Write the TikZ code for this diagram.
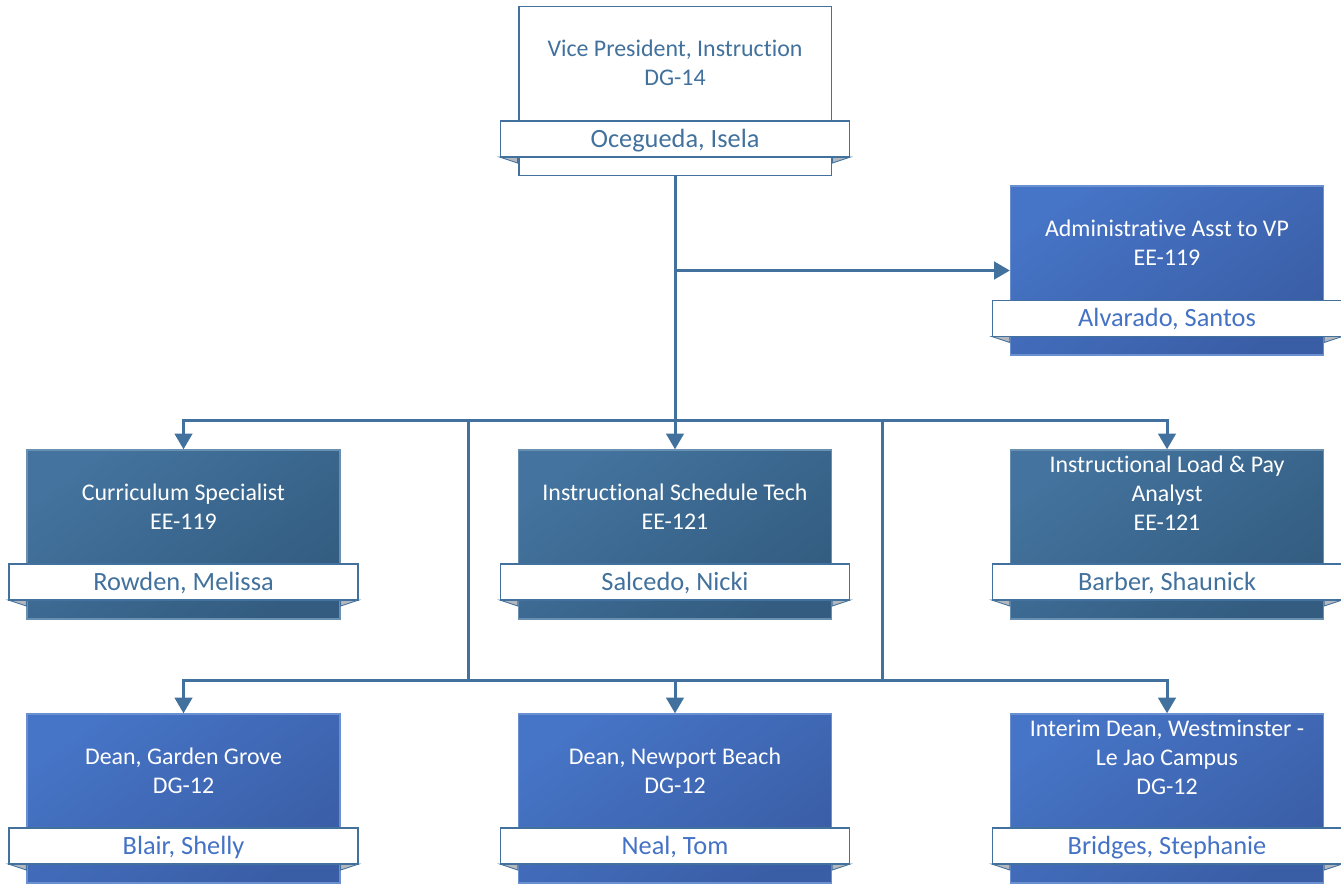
\documentclass[tikz,border=0pt]{standalone}
\usepackage{fontspec}
\setmainfont{Carlito}[Ligatures=NoCommon]
\usetikzlibrary{arrows.meta}
\definecolor{linkblue}{HTML}{41719C}
\definecolor{steeltop}{HTML}{43739E}
\definecolor{steelbot}{HTML}{335C80}
\definecolor{royaltop}{HTML}{4674C6}
\definecolor{royalbot}{HTML}{3A5EA6}
\definecolor{royaltext}{HTML}{4472C4}
\definecolor{flapgray}{HTML}{B4B8BE}
\begin{document}
\begin{tikzpicture}[x=0.02cm,y=-0.02cm,
    unit/.style={minimum width=6.26cm,minimum height=3.38cm,inner sep=0pt},
    vpunit/.style={unit,draw=linkblue,line width=1.1pt,fill=white},
    steelunit/.style={unit,draw=steeltop!80!white,line width=0.8pt,top color=steeltop,bottom color=steelbot,shading angle=35},
    royalunit/.style={unit,draw=royaltop!80!white,line width=0.8pt,top color=royaltop,bottom color=royalbot,shading angle=35},
    title/.style={align=center,font=\fontsize{13.6}{16.5}\selectfont,text=white,inner sep=0pt},
    plate/.style={draw=linkblue,line width=0.8pt,fill=white,minimum width=6.98cm,minimum height=0.72cm,inner sep=0pt,
        text height=12pt,text depth=2.4pt,font=\fontsize{15}{18}\selectfont},
    flap/.style={fill=flapgray,draw=linkblue,line width=0.5pt},
    link/.style={draw=linkblue,line width=1.7pt},
    conn/.style={link,-{Triangle[width=10pt,length=9pt]}}
]
\useasboundingbox (0,0) rectangle (1341,890);

% boxes
\node[vpunit] (vp) at (675,91) {};
\node[royalunit] (adm) at (1167,270.5) {};
\node[steelunit] (cs) at (183.5,534.5) {};
\node[steelunit] (ist) at (675,534.5) {};
\node[steelunit] (ilp) at (1167,534.5) {};
\node[royalunit] (dgg) at (183.5,798.5) {};
\node[royalunit] (dnb) at (675,798.5) {};
\node[royalunit] (dwl) at (1167,798.5) {};

% titles
\node[title,text=linkblue] (vpt) at (675,63) {Vice President, Instruction\\DG-14};
\node[title] (admt) at (1167,243) {Administrative Asst to VP\\EE-119};
\node[title] (cst) at (183.5,507) {Curriculum Specialist\\EE-119};
\node[title] (istt) at (675,507) {Instructional Schedule Tech\\EE-121};
\node[title] (ilpt) at (1167,493) {Instructional Load \& Pay\\Analyst\\EE-121};
\node[title] (dggt) at (183.5,771) {Dean, Garden Grove\\DG-12};
\node[title] (dnbt) at (675,771) {Dean, Newport Beach\\DG-12};
\node[title] (dwlt) at (1167,757) {Interim Dean, Westminster -\\Le Jao Campus\\DG-12};

% name plates
\foreach \b/\y in {vp/157,adm/336.5,cs/600,ist/600,ilp/600,dgg/864,dnb/864,dwl/864}
{
    \fill[flap] (\b.west |- 0,\y) ++(-18,0) -- ++(18,0) -- ++(0,6) -- cycle;
    \fill[flap] (\b.east |- 0,\y) ++(18,0) -- ++(-18,0) -- ++(0,6) -- cycle;
}
\node[plate,text=linkblue] (vpn) at (675,139) {Ocegueda, Isela};
\node[plate,text=royaltext] (admn) at (1167,318.5) {Alvarado, Santos};
\node[plate,text=linkblue] (csn) at (183.5,582) {Rowden, Melissa};
\node[plate,text=linkblue] (istn) at (675,582) {Salcedo, Nicki};
\node[plate,text=linkblue] (ilpn) at (1167,582) {Barber, Shaunick};
\node[plate,text=royaltext] (dggn) at (183.5,846) {Blair, Shelly};
\node[plate,text=royaltext] (dnbn) at (675,846) {Neal, Tom};
\node[plate,text=royaltext] (dwln) at (1167,846) {Bridges, Stephanie};

% connectors
\coordinate (busa) at (675,420);
\coordinate (busb) at (675,680);
\coordinate (lnkl) at (468,420);
\coordinate (lnkr) at (882,420);
\draw[conn] (vp.south) |- (adm.west);
\draw[conn] (vp.south) -- (ist.north);
\draw[conn] (busa) -| (cs.north);
\draw[conn] (busa) -| (ilp.north);
\draw[link] (lnkl) |- (busb);
\draw[link] (lnkr) |- (busb);
\draw[conn] (busb) -| (dgg.north);
\draw[conn] (busb) -- (dnb.north);
\draw[conn] (busb) -| (dwl.north);
\end{tikzpicture}
\end{document}
